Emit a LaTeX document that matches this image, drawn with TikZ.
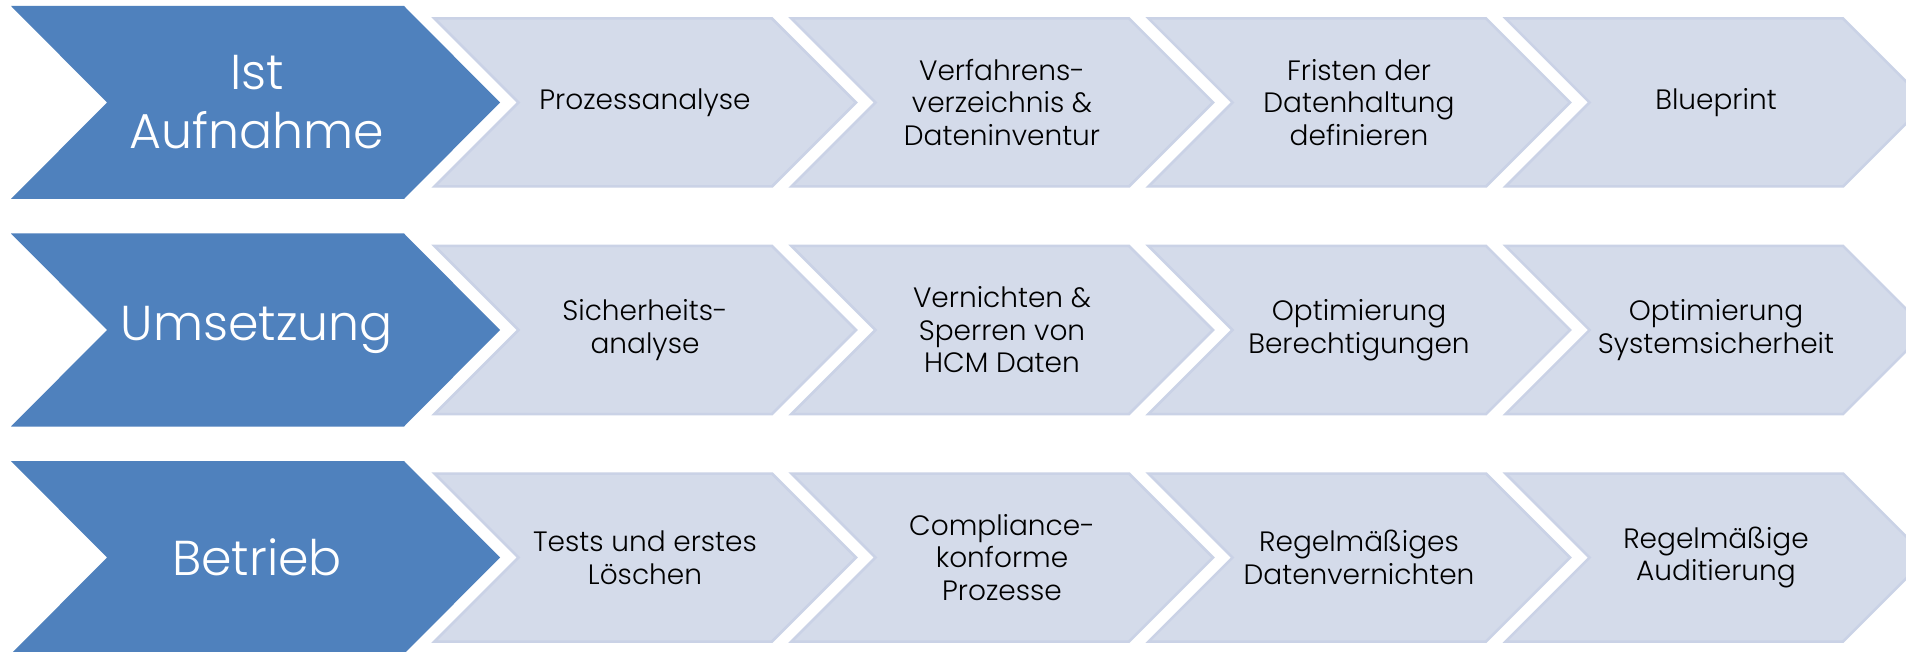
\documentclass[tikz,border=0pt]{standalone}
\usepackage{fontspec}
\setmainfont{Poppins}[UprightFont={* Light}]
\definecolor{phaseblue}{HTML}{4F81BD}
\definecolor{stepfill}{HTML}{D4DBEA}
\definecolor{stepedge}{HTML}{CAD2E6}
\begin{document}
\begin{tikzpicture}[x=1pt,y=-1pt,
  phaseshape/.style={fill=phaseblue, draw=none},
  stepshape/.style={fill=stepfill, draw=stepedge, line width=2.5pt, line join=miter},
  phaselabel/.style={text=white, font=\fontsize{49}{59}\selectfont, align=center, inner sep=0pt},
  steplabel/.style={text=black, font=\fontsize{28}{32.5}\selectfont, align=center, inner sep=0pt}]
\useasboundingbox (0,0) rectangle (1906,652);
\clip (0,0) rectangle (1906,652);
\fill[white] (0,0) rectangle (1906,652);
\foreach \yc in {102.5, 330, 557.5} {
  \path[phaseshape] (11,\yc-96.5) -- (404,\yc-96.5) -- (500,\yc) -- (404,\yc+96.5) -- (11,\yc+96.5) -- (107,\yc) -- cycle;
  \foreach \c in {0,1,2,3} {
    \pgfmathsetmacro\xl{433+357*\c}
    \path[stepshape] (\xl+1.5,\yc-84) -- (\xl+339,\yc-84) -- (\xl+423,\yc) -- (\xl+339,\yc+84) -- (\xl+1.5,\yc+84) -- (\xl+85.5,\yc) -- cycle;
  }
}
% row 1
\node[phaselabel] (p1) at (257,102) {Ist\\Aufnahme};
\node[steplabel] (s11) at (645,102.5) {Prozessanalyse};
\node[steplabel] (s12) at (1002,102.5) {Verfahrens-\\verzeichnis \&\\Dateninventur};
\node[steplabel] (s13) at (1359,102.5) {Fristen der\\Datenhaltung\\definieren};
\node[steplabel] (s14) at (1716,102.5) {Blueprint};
% row 2
\node[phaselabel] (p2) at (257,330) {Umsetzung};
\node[steplabel] (s21) at (645,330) {Sicherheits-\\analyse};
\node[steplabel] (s22) at (1002,330) {Vernichten \&\\Sperren von\\HCM Daten};
\node[steplabel] (s23) at (1359,330) {Optimierung\\Berechtigungen};
\node[steplabel] (s24) at (1716,330) {Optimierung\\Systemsicherheit};
% row 3
\node[phaselabel] (p3) at (257,557.5) {Betrieb};
\node[steplabel] (s31) at (645,557.5) {Tests und erstes\\Löschen};
\node[steplabel] (s32) at (1002,557.5) {Compliance-\\konforme\\Prozesse};
\node[steplabel] (s33) at (1359,557.5) {Regelmäßiges\\Datenvernichten};
\node[steplabel] (s34) at (1716,557.5) {Regelmäßige\\Auditierung};
\end{tikzpicture}
\end{document}
